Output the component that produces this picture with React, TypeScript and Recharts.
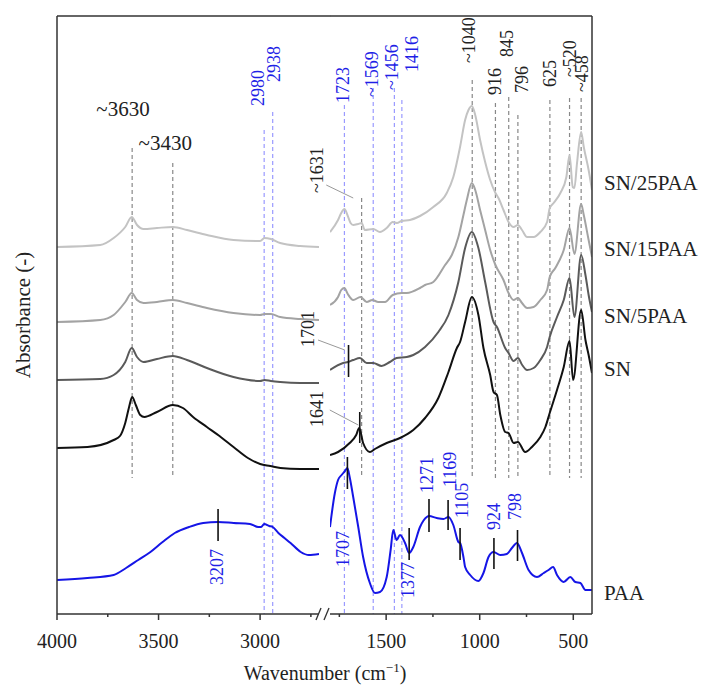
import React from 'react';
import { LineChart, Line, XAxis, YAxis, ReferenceLine, ReferenceDot } from 'recharts';

const FONT = '"Liberation Serif", "Times New Roman", serif';
const Y_MAX = 5.98;

const SERIES_NAMES = ['SN/25PAA', 'SN/15PAA', 'SN/5PAA', 'SN', 'PAA'];
const SERIES_COLORS = ['#c3c3c3', '#a3a3a3', '#5a5a5a', '#111111', '#1515e6'];
const SERIES_LABEL_Y = [4.31, 3.65, 2.98, 2.45, 0.21];

// 4000 - 2710 cm-1  [wavenumber, absorbance (offset)]
const SN25_L = [[4000, 3.67], [3787, 3.69], [3721, 3.76], [3664, 3.87], [3632, 3.97], [3606, 3.89], [3574, 3.85], [3508, 3.86], [3430, 3.87], [3360, 3.84], [3262, 3.79], [3131, 3.74], [3000, 3.73], [2978, 3.76], [2947, 3.75], [2901, 3.71], [2803, 3.68], [2710, 3.67]];
const SN15_L = [[4000, 2.92], [3787, 2.94], [3721, 2.99], [3664, 3.12], [3632, 3.21], [3606, 3.14], [3574, 3.11], [3508, 3.12], [3430, 3.14], [3360, 3.11], [3262, 3.06], [3131, 3.01], [3000, 2.99], [2978, 3.0], [2947, 3.0], [2901, 2.97], [2803, 2.95], [2710, 2.94]];
const SN5_L = [[4000, 2.34], [3787, 2.35], [3721, 2.39], [3664, 2.52], [3632, 2.66], [3606, 2.57], [3574, 2.52], [3508, 2.55], [3430, 2.58], [3360, 2.54], [3262, 2.46], [3131, 2.37], [3000, 2.33], [2978, 2.34], [2947, 2.33], [2901, 2.32], [2803, 2.31], [2710, 2.31]];
const SN_L = [[4000, 1.66], [3850, 1.67], [3721, 1.74], [3690, 1.78], [3664, 1.91], [3645, 2.07], [3630, 2.17], [3612, 2.09], [3590, 1.99], [3570, 1.97], [3508, 2.02], [3430, 2.09], [3380, 2.06], [3330, 1.97], [3262, 1.87], [3200, 1.78], [3131, 1.67], [3060, 1.56], [3000, 1.5], [2950, 1.48], [2900, 1.46], [2803, 1.45], [2710, 1.45]];
const PAA_L = [[4000, 0.34], [3850, 0.36], [3721, 0.39], [3660, 0.46], [3600, 0.54], [3540, 0.62], [3480, 0.72], [3420, 0.81], [3350, 0.87], [3280, 0.91], [3207, 0.92], [3130, 0.91], [3050, 0.9], [3010, 0.87], [2995, 0.87], [2980, 0.9], [2955, 0.88], [2938, 0.87], [2910, 0.81], [2880, 0.76], [2850, 0.71], [2800, 0.62], [2760, 0.59], [2710, 0.6]];

// 1800 - 400 cm-1
const SN25_R = [[1800, 3.82], [1757, 3.94], [1740, 4.01], [1723, 4.05], [1705, 3.98], [1690, 3.91], [1676, 3.89], [1650, 3.9], [1631, 3.91], [1614, 3.84], [1569, 3.85], [1533, 3.82], [1497, 3.86], [1465, 3.92], [1442, 3.91], [1417, 3.93], [1373, 3.94], [1319, 3.98], [1248, 4.07], [1176, 4.21], [1141, 4.37], [1105, 4.67], [1078, 4.94], [1060, 5.04], [1042, 5.08], [1024, 4.99], [998, 4.74], [971, 4.52], [944, 4.34], [916, 4.21], [900, 4.16], [873, 4.04], [846, 3.92], [819, 3.87], [796, 3.89], [774, 3.84], [747, 3.77], [712, 3.77], [676, 3.82], [640, 3.92], [626, 4.06], [605, 4.11], [569, 4.21], [537, 4.37], [520, 4.59], [503, 4.27], [494, 4.26], [480, 4.51], [458, 4.82], [444, 4.67], [418, 4.44], [400, 4.24]];
const SN15_R = [[1800, 3.09], [1757, 3.17], [1740, 3.24], [1723, 3.26], [1705, 3.2], [1676, 3.14], [1637, 3.17], [1604, 3.12], [1574, 3.14], [1542, 3.12], [1506, 3.12], [1465, 3.19], [1417, 3.21], [1390, 3.21], [1319, 3.26], [1292, 3.29], [1248, 3.32], [1185, 3.49], [1149, 3.59], [1114, 3.77], [1087, 3.99], [1069, 4.14], [1042, 4.31], [1024, 4.24], [998, 4.04], [971, 3.84], [944, 3.64], [916, 3.49], [873, 3.34], [846, 3.21], [819, 3.14], [796, 3.16], [774, 3.11], [747, 3.06], [712, 3.07], [676, 3.14], [640, 3.24], [626, 3.37], [596, 3.46], [551, 3.64], [520, 3.86], [494, 3.6], [458, 4.1], [444, 3.99], [418, 3.74], [400, 3.57]];
const SN5_R = [[1800, 2.44], [1730, 2.51], [1704, 2.52], [1676, 2.54], [1640, 2.56], [1604, 2.51], [1569, 2.51], [1524, 2.48], [1480, 2.52], [1444, 2.56], [1390, 2.57], [1355, 2.59], [1292, 2.67], [1221, 2.82], [1167, 2.99], [1114, 3.32], [1078, 3.66], [1042, 3.82], [1007, 3.66], [971, 3.32], [926, 2.92], [908, 2.87], [864, 2.66], [846, 2.61], [819, 2.53], [796, 2.56], [773, 2.49], [747, 2.44], [712, 2.46], [676, 2.54], [640, 2.67], [626, 2.77], [587, 2.97], [551, 3.14], [520, 3.36], [494, 2.97], [458, 3.59], [435, 3.39], [418, 3.19], [400, 3.02]];
const SN_R = [[1800, 1.59], [1757, 1.62], [1695, 1.71], [1660, 1.79], [1644, 1.86], [1623, 1.71], [1587, 1.62], [1560, 1.65], [1497, 1.71], [1426, 1.76], [1355, 1.84], [1292, 1.96], [1221, 2.16], [1167, 2.42], [1122, 2.66], [1105, 2.72], [1078, 2.92], [1042, 3.17], [1007, 2.99], [980, 2.66], [944, 2.39], [926, 2.22], [908, 2.19], [890, 1.99], [864, 1.82], [846, 1.81], [819, 1.71], [796, 1.72], [757, 1.62], [721, 1.67], [676, 1.77], [649, 1.87], [626, 2.01], [587, 2.24], [551, 2.47], [520, 2.73], [501, 2.34], [458, 3.04], [435, 2.74], [418, 2.59], [400, 2.41]];
const PAA_R = [[1800, 0.87], [1774, 1.21], [1757, 1.34], [1738, 1.39], [1720, 1.43], [1707, 1.46], [1695, 1.37], [1676, 1.17], [1649, 0.87], [1623, 0.57], [1587, 0.31], [1560, 0.21], [1533, 0.22], [1497, 0.37], [1476, 0.64], [1462, 0.84], [1444, 0.74], [1426, 0.79], [1399, 0.71], [1377, 0.61], [1355, 0.67], [1319, 0.87], [1283, 0.97], [1271, 0.98], [1230, 0.96], [1194, 0.95], [1167, 0.97], [1141, 0.89], [1114, 0.72], [1105, 0.71], [1087, 0.57], [1078, 0.47], [1051, 0.39], [1007, 0.33], [980, 0.41], [953, 0.57], [926, 0.62], [890, 0.59], [855, 0.6], [828, 0.66], [801, 0.71], [774, 0.61], [739, 0.44], [694, 0.37], [658, 0.41], [632, 0.44], [608, 0.47], [587, 0.39], [551, 0.32], [516, 0.37], [489, 0.32], [462, 0.31], [435, 0.24], [400, 0.24]];

const LEFT_SERIES = [SN25_L, SN15_L, SN5_L, SN_L, PAA_L];
const RIGHT_SERIES = [SN25_R, SN15_R, SN5_R, SN_R, PAA_R];

const LEFT_TICKS = [4000, 3750, 3500, 3250, 3000, 2750];
const RIGHT_TICKS = [1750, 1500, 1250, 1000, 750, 500];

// dashed guides [wavenumber, top]
const GRAY_GUIDES_L = [[3630, 4.66], [3430, 4.51]];
const GRAY_GUIDES_R = [[1631, 4.16], [1040, 5.34], [916, 5.11], [845, 5.17], [796, 4.99], [625, 5.14], [520, 5.16], [458, 5.16]];
const GRAY_GUIDE_BOTTOM = 1.36;
const BLUE_GUIDES_L = [[2980, 4.84], [2938, 5.02]];
const BLUE_GUIDES_R = [[1723, 5.09], [1569, 5.26], [1456, 5.26], [1416, 5.14]];

// peak markers [wavenumber, top, bottom]
const MARKS_L = [[3207, 1.05, 0.73]];
const MARKS_R = [[1707, 1.57, 1.25], [1377, 0.86, 0.54], [1271, 1.15, 0.82], [1169, 1.14, 0.84], [1105, 0.86, 0.54], [924, 0.76, 0.45], [798, 0.84, 0.53], [1701, 2.69, 2.37], [1641, 2.02, 1.71]];

// leader lines [w1, a1, w2, a2]
const LEADERS_R = [[1820, 4.29, 1676, 4.16], [1864, 2.74, 1721, 2.64], [1801, 2.04, 1649, 1.89]];

// rotated labels [wavenumber, bottom of text, text]
const BLUE_LABELS_L = [[3008, 5.08, '2980'], [2934, 5.32, '2938'], [3213, 0.29, '3207']];
const BLUE_LABELS_R = [[1730, 5.11, '1723'], [1574, 5.17, '~1569'], [1467, 5.24, '~1456'], [1363, 5.42, '1416'], [1730, 0.47, '1707'], [1382, 0.16, '1377'], [1283, 1.21, '1271'], [1158, 1.27, '1169'], [1096, 0.96, '1105'], [926, 0.84, '924'], [810, 0.94, '798']];
const BLACK_LABELS_R = [[1872, 4.21, '~1631'], [1919, 2.67, '1701'], [1872, 1.87, '1641'], [1055, 5.51, '~1040'], [917, 5.19, '916'], [855, 5.57, '845'], [774, 5.21, '796'], [623, 5.27, '625'], [516, 5.37, '~520'], [452, 5.22, '~458']];
const FLAT_LABELS_L = [[3675, 5.05, '~3630'], [3467, 4.71, '~3430']];

const toPts = (arr: number[][]) => arr.map(([w, a]) => ({ w, a }));

const BLUE_TEXT = '#1f1fe6';
const BLUE_DASH = '#9a9aff';
const GRAY_DASH = '#888888';
const AXIS = '#333333';

const Tick = (props: any) => {
  const { x, y, payload } = props;
  const major = payload.value % 500 === 0;
  return (
    <g>
      <line x1={x} y1={y} x2={x} y2={y + (major ? 6 : 3)} stroke={AXIS} strokeWidth={1.5} />
      {major && (
        <text x={x} y={y + 34} textAnchor="middle" fontSize={20} fontFamily={FONT} fill="#222">
          {payload.value}
        </text>
      )}
    </g>
  );
};

const vText = (text: string, color: string) => (p: any) => (
  <text
    x={p.cx}
    y={p.cy}
    transform={`rotate(-90 ${p.cx} ${p.cy})`}
    dominantBaseline="central"
    fontSize={18}
    fontFamily={FONT}
    fill={color}
  >
    {text}
  </text>
);

const hText = (text: string, size: number, anchor: string, dx: number) => (p: any) => (
  <text x={p.cx + dx} y={p.cy} textAnchor={anchor} dominantBaseline="central" fontSize={size} fontFamily={FONT} fill="#222">
    {text}
  </text>
);

const renderGuides = (list: number[][], bottom: number, color: string, prefix: string) =>
  list.map(([w, top]) => (
    <ReferenceLine
      key={prefix + w}
      segment={[{ x: w, y: top }, { x: w, y: bottom }]}
      stroke={color}
      strokeWidth={1.2}
      strokeDasharray="4 3"
      ifOverflow="visible"
    />
  ));

const renderMarks = (list: number[][], prefix: string) =>
  list.map(([w, top, bottom]) => (
    <ReferenceLine
      key={prefix + w}
      segment={[{ x: w, y: top }, { x: w, y: bottom }]}
      stroke="#111"
      strokeWidth={1.6}
      ifOverflow="visible"
    />
  ));

const renderVLabels = (list: any[], color: string, prefix: string) =>
  list.map(([w, a, t]) => (
    <ReferenceDot key={prefix + t + w} x={w} y={a} ifOverflow="visible" shape={vText(t, color)} />
  ));

export default function App() {
  return (
    <div style={{ position: 'absolute', left: 0, top: 0, width: 706, height: 686, background: '#fff' }}>
      {/* left panel 4000-2710 */}
      <div style={{ position: 'absolute', left: 0, top: 0 }}>
        <LineChart width={706} height={686} margin={{ top: 16, right: 387, bottom: 32, left: 0 }}>
          <XAxis
            dataKey="w"
            type="number"
            domain={[2710, 4000]}
            reversed
            allowDataOverflow
            ticks={LEFT_TICKS}
            interval={0}
            tick={<Tick />}
            tickLine={false}
            tickSize={0}
            tickMargin={0}
            height={40}
            axisLine={{ stroke: AXIS, strokeWidth: 1.5 }}
          />
          <YAxis
            type="number"
            domain={[0, Y_MAX]}
            allowDataOverflow
            tick={false}
            tickLine={false}
            width={57}
            axisLine={{ stroke: AXIS, strokeWidth: 1.5 }}
            label={(p: any) => {
              const vb = p.viewBox;
              const cx = vb.x + 23;
              const cy = vb.y + vb.height / 2;
              return (
                <text x={cx} y={cy} transform={`rotate(-90 ${cx} ${cy})`} textAnchor="middle" dominantBaseline="central" fontSize={21} fontFamily={FONT} fill="#222">
                  Absorbance (-)
                </text>
              );
            }}
          />
          <ReferenceLine segment={[{ x: 4000, y: Y_MAX }, { x: 2655, y: Y_MAX }]} stroke={AXIS} strokeWidth={1.5} ifOverflow="visible" />
          {renderGuides(GRAY_GUIDES_L, GRAY_GUIDE_BOTTOM, GRAY_DASH, 'gl')}
          {renderGuides(BLUE_GUIDES_L, 0, BLUE_DASH, 'bl')}
          {LEFT_SERIES.map((s, i) => (
            <Line
              key={SERIES_NAMES[i]}
              data={toPts(s)}
              dataKey="a"
              type="monotone"
              stroke={SERIES_COLORS[i]}
              strokeWidth={2}
              dot={false}
              isAnimationActive={false}
            />
          ))}
          {renderMarks(MARKS_L, 'ml')}
          {renderVLabels(BLUE_LABELS_L, BLUE_TEXT, 'lbl')}
          {FLAT_LABELS_L.map(([w, a, t]: any) => (
            <ReferenceDot key={t} x={w} y={a} ifOverflow="visible" shape={hText(t, 21, 'middle', 0)} />
          ))}
        </LineChart>
      </div>

      {/* right panel 1800-400 */}
      <div style={{ position: 'absolute', left: 0, top: 0 }}>
        <LineChart width={706} height={686} margin={{ top: 16, right: 113, bottom: 32, left: 330 }}>
          <XAxis
            dataKey="w"
            type="number"
            domain={[400, 1800]}
            reversed
            allowDataOverflow
            ticks={RIGHT_TICKS}
            interval={0}
            tick={<Tick />}
            tickLine={false}
            tickSize={0}
            tickMargin={0}
            height={40}
            axisLine={{ stroke: AXIS, strokeWidth: 1.5 }}
            label={(p: any) => {
              const vb = p.viewBox;
              return (
                <text x={vb.x - 5} y={vb.y + 66} textAnchor="middle" fontSize={20} fontFamily={FONT} fill="#222">
                  Wavenumber (cm
                  <tspan dy={-8} fontSize={13}>−1</tspan>
                  <tspan dy={8}>)</tspan>
                </text>
              );
            }}
          />
          <YAxis
            orientation="right"
            type="number"
            domain={[0, Y_MAX]}
            allowDataOverflow
            tick={false}
            tickLine={false}
            width={1}
            axisLine={{ stroke: AXIS, strokeWidth: 1.5 }}
          />
          <ReferenceLine segment={[{ x: 1800, y: Y_MAX }, { x: 400, y: Y_MAX }]} stroke={AXIS} strokeWidth={1.5} ifOverflow="visible" />
          <ReferenceDot
            x={1800}
            y={0}
            ifOverflow="visible"
            shape={(p: any) => (
              <g stroke={AXIS} strokeWidth={1.3}>
                <line x1={p.cx - 14} y1={p.cy + 6} x2={p.cx - 9} y2={p.cy - 6} />
                <line x1={p.cx - 6} y1={p.cy + 6} x2={p.cx - 1} y2={p.cy - 6} />
              </g>
            )}
          />
          {renderGuides(GRAY_GUIDES_R, GRAY_GUIDE_BOTTOM, GRAY_DASH, 'gr')}
          {renderGuides(BLUE_GUIDES_R, 0, BLUE_DASH, 'br')}
          {LEADERS_R.map(([w1, a1, w2, a2]) => (
            <ReferenceLine
              key={'ld' + w1}
              segment={[{ x: w1, y: a1 }, { x: w2, y: a2 }]}
              stroke="#999"
              strokeWidth={1}
              ifOverflow="visible"
            />
          ))}
          {RIGHT_SERIES.map((s, i) => (
            <Line
              key={SERIES_NAMES[i]}
              data={toPts(s)}
              dataKey="a"
              type="monotone"
              stroke={SERIES_COLORS[i]}
              strokeWidth={2}
              dot={false}
              isAnimationActive={false}
            />
          ))}
          {renderMarks(MARKS_R, 'mr')}
          {renderVLabels(BLUE_LABELS_R, BLUE_TEXT, 'rbl')}
          {renderVLabels(BLACK_LABELS_R, '#222', 'rkl')}
          {SERIES_NAMES.map((name, i) => (
            <ReferenceDot key={'sl' + name} x={400} y={SERIES_LABEL_Y[i]} ifOverflow="visible" shape={hText(name, 21, 'start', 12)} />
          ))}
        </LineChart>
      </div>
    </div>
  );
}
